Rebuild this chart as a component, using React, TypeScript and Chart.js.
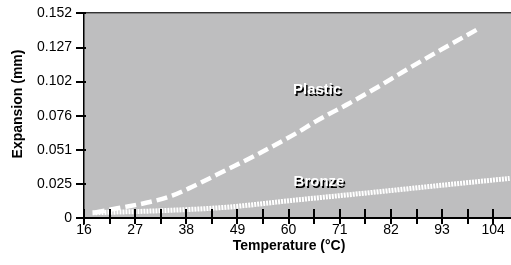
import React, { useEffect, useRef } from "react";
import { Chart, registerables } from "chart.js";

Chart.register(...registerables);

// Temperature (°C) sample points and expansion values (mm)
const plasticTemps = [17.7, 22.8, 30.1, 34.7, 39.1, 46.4, 53.6, 61.6, 66.0, 73.2, 79.3, 84.7, 92.1, 101.4];
const plasticValues = [0.0039, 0.0072, 0.0121, 0.0166, 0.0233, 0.0357, 0.0481, 0.063, 0.0722, 0.0855, 0.0974, 0.1086, 0.1234, 0.1413];

const bronzeTemps = [17.4, 31.9, 46.4, 61.6, 79.7, 92.7, 108.0];
const bronzeValues = [0.0039, 0.0054, 0.008, 0.0134, 0.0196, 0.0242, 0.0295];

// Axis ticks (every 10 °F converted to °C; labels every 20 °F)
const xTickValues = [15.56, 21.11, 26.67, 32.22, 37.78, 43.33, 48.89, 54.44, 60.0, 65.56, 71.11, 76.67, 82.22, 87.78, 93.33, 98.89, 104.44];
const xTickLabels = ["16", "", "27", "", "38", "", "49", "", "60", "", "71", "", "82", "", "93", "", "104"];
const yTickValues = [0, 0.0254, 0.0508, 0.0762, 0.1016, 0.127, 0.1524];
const yTickLabels = ["0", "0.025", "0.051", "0.076", "0.102", "0.127", "0.152"];

const xMin = 15.56;
const xMax = 108.3;

const seriesLabels = [
  { text: "Plastic", x: 66.2, y: 0.0952 },
  { text: "Bronze", x: 66.6, y: 0.0268 },
];

const xTitle = "Temperature (°C)";
const yTitle = "Expansion (mm)";

const decorPlugin = {
  id: "decor",
  beforeDraw(chart: any) {
    const { ctx, chartArea } = chart;
    ctx.save();
    ctx.fillStyle = "#bebebf";
    ctx.fillRect(chartArea.left, chartArea.top, chart.width - chartArea.left, chartArea.bottom - chartArea.top);
    ctx.restore();
  },
  afterDraw(chart: any) {
    const { ctx, chartArea } = chart;
    const xs = chart.scales.x;
    const ys = chart.scales.y;
    ctx.save();
    ctx.setLineDash([]);
    const left = Math.round(chartArea.left);
    const top = Math.round(chartArea.top);
    const bottom = Math.round(chartArea.bottom);
    // top border
    ctx.fillStyle = "#333";
    ctx.fillRect(left, top - 1, chart.width - left, 1.5);
    // left axis line
    ctx.fillStyle = "#000";
    ctx.fillRect(left - 1, top - 1, 1.5, bottom - top + 8);
    // bottom axis
    ctx.fillRect(left - 8, bottom - 1, chart.width - left + 8, 2);
    // x ticks crossing axis
    for (let i = 0; i < xTickValues.length; i++) {
      const px = Math.round(xs.getPixelForValue(xTickValues[i]));
      ctx.fillRect(px - 1, bottom - 9, 2, 15);
    }
    // y ticks
    for (let i = 0; i < yTickValues.length; i++) {
      const py = Math.round(ys.getPixelForValue(yTickValues[i]));
      ctx.fillRect(left - 8, py - 1, 10, 2);
    }
    // series labels
    ctx.font = "bold 15px 'Liberation Sans', Arial, sans-serif";
    ctx.textAlign = "center";
    ctx.textBaseline = "middle";
    seriesLabels.forEach((l) => {
      const px = xs.getPixelForValue(l.x);
      const py = ys.getPixelForValue(l.y);
      ctx.fillStyle = "#000";
      ctx.fillText(l.text, px + 1.5, py + 1.5);
      ctx.fillStyle = "#fff";
      ctx.fillText(l.text, px, py);
    });
    // axis titles
    ctx.fillStyle = "#000";
    ctx.font = "bold 14px 'Liberation Sans', Arial, sans-serif";
    ctx.fillText(xTitle, 289, 246);
    ctx.translate(18, 104);
    ctx.rotate(-Math.PI / 2);
    ctx.fillText(yTitle, 0, 0);
    ctx.restore();
  },
};

export default function App() {
  const ref = useRef<HTMLCanvasElement | null>(null);
  useEffect(() => {
    if (!ref.current) return;
    const chart = new Chart(ref.current, {
      type: "line",
      data: {
        datasets: [
          {
            label: "Plastic",
            data: plasticTemps.map((t, i) => ({ x: t, y: plasticValues[i] })),
            borderColor: "#ffffff",
            borderWidth: 4.5,
            borderDash: [11, 5],
            borderCapStyle: "butt",
            pointRadius: 0,
            cubicInterpolationMode: "monotone",
            fill: false,
          },
          {
            label: "Bronze",
            data: bronzeTemps.map((t, i) => ({ x: t, y: bronzeValues[i] })),
            borderColor: "#ffffff",
            borderWidth: 5,
            borderDash: [2, 1],
            borderCapStyle: "butt",
            pointRadius: 0,
            cubicInterpolationMode: "monotone",
            fill: false,
          },
        ],
      },
      options: {
        animation: false,
        responsive: false,
        maintainAspectRatio: false,
        layout: { padding: { top: 13, right: 0, left: 0, bottom: 0 } },
        plugins: { legend: { display: false }, tooltip: { enabled: false }, title: { display: false } },
        scales: {
          x: {
            type: "linear",
            min: xMin,
            max: xMax,
            afterFit: (s: any) => {
              s.height = 47;
            },
            afterBuildTicks: (s: any) => {
              s.ticks = xTickValues.map((v) => ({ value: v }));
            },
            ticks: {
              autoSkip: false,
              maxRotation: 0,
              padding: -2,
              color: "#000",
              font: { family: "'Liberation Sans', Arial, sans-serif", size: 14 },
              callback: (_v: any, i: number) => xTickLabels[i],
            },
            grid: { display: true, drawOnChartArea: false, drawTicks: true, tickLength: 6, color: "rgba(0,0,0,0)" },
            border: { display: false },
          },
          y: {
            type: "linear",
            min: 0,
            max: 0.1524,
            afterFit: (s: any) => {
              s.width = 84;
            },
            afterBuildTicks: (s: any) => {
              s.ticks = yTickValues.map((v) => ({ value: v }));
            },
            ticks: {
              autoSkip: false,
              padding: 5,
              color: "#000",
              font: { family: "'Liberation Sans', Arial, sans-serif", size: 14 },
              callback: (_v: any, i: number) => yTickLabels[i],
            },
            grid: { display: true, drawOnChartArea: false, drawTicks: true, tickLength: 7, color: "rgba(0,0,0,0)" },
            border: { display: false },
          },
        },
      },
      plugins: [decorPlugin],
    } as any);
    return () => chart.destroy();
  }, []);
  return (
    <div style={{ position: "absolute", left: 0, top: 0, width: 511, height: 265, background: "#fff" }}>
      <canvas ref={ref} width={511} height={265} style={{ display: "block" }} />
    </div>
  );
}
